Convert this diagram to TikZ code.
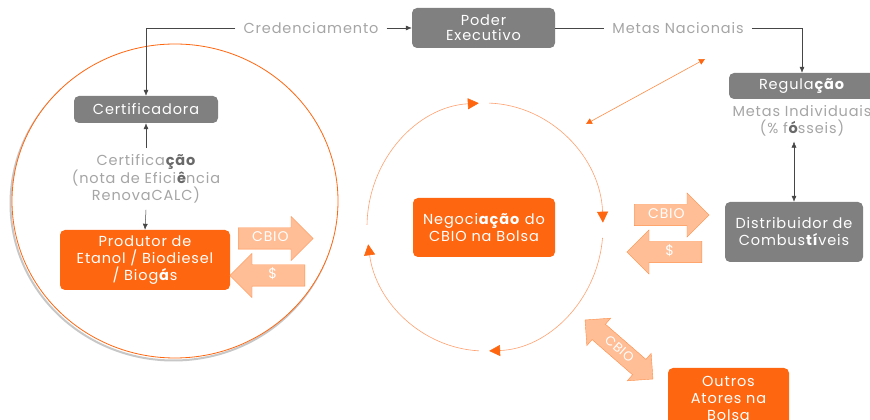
\documentclass[tikz,border=0pt]{standalone}
\usepackage{fontspec}
\setmainfont{Poppins}[LetterSpace=6]
\usetikzlibrary{arrows.meta,shapes.arrows,positioning,shadows}

\definecolor{laranja}{RGB}{255,102,16}
\definecolor{laranjaclaro}{RGB}{255,190,150}
\definecolor{laranjaborda}{RGB}{255,140,70}
\definecolor{laranjalinha}{RGB}{255,160,110}
\definecolor{cinza}{RGB}{128,128,128}
\definecolor{cinzatexto}{RGB}{165,165,165}
\definecolor{cinzaescuro}{RGB}{105,105,105}
\definecolor{linha}{RGB}{70,70,70}

\begin{document}
\begin{tikzpicture}[
  x=1pt, y=1pt,
  >={Latex[length=6pt,width=5pt]},
  every node/.style={font=\fontsize{14.5}{17}\selectfont, align=center},
  caixa/.style={rectangle, rounded corners=5pt, fill=cinza, text=white, inner sep=0pt},
  caixalaranja/.style={caixa, fill=laranja},
  rotulo/.style={text=cinzatexto, inner sep=6pt},
  seta/.style={single arrow, draw=laranjaborda, fill=laranjaclaro, text=white,
    font=\fontsize{14}{14}\selectfont, minimum height=75pt, minimum width=44pt,
    single arrow head extend=11.5pt, text height=9pt, text depth=2pt, inner ysep=5pt, inner xsep=3pt},
  ciclo/.style={draw=laranjalinha, line width=0.6pt, -{Triangle[length=11pt,width=11pt,color=laranja]}},
  conector/.style={draw=linha, line width=0.5pt},
  ]
  \useasboundingbox (0,0) rectangle (870,420);

  % big circle round the producer
  \draw[black!22, line width=2pt] (173.5,216.5) ellipse [x radius=163, y radius=157];
  \draw[draw=laranja, line width=0.8pt, fill=white] (175,219) ellipse [x radius=163, y radius=157];

  % boxes
  \node[caixa, minimum width=143pt, minimum height=40pt] (pe) at (483.5,392) {Poder\\[-2pt]Executivo};
  \node[caixa, minimum width=146pt, minimum height=26pt] (reg) at (802,334) {Regula\textbf{ção}};
  \node[caixa, minimum width=138pt, minimum height=60pt] (dist) at (794,188) {Distribuidor de\\Combus\textbf{tí}veis};
  \node[caixa, minimum width=144pt, minimum height=27pt] (certf) at (146,310.5) {Certificadora};
  \node[caixalaranja, minimum width=170pt, minimum height=60pt] (prod) at (145,160) {Produtor de\\Etanol / Biodiesel\\/ Biog\textbf{á}s};
  \node[caixalaranja, minimum width=142pt, minimum height=59pt] (neg) at (484,192.5) {Negoci\textbf{ação} do\\CBIO na Bolsa};
  \node[caixalaranja, minimum width=121pt, minimum height=60pt] (outros) at (728.5,22) {Outros\\Atores na\\Bolsa};

  % labels
  \node[rotulo, inner xsep=8pt] (cred) at (311,392) {Credenciamento};
  \node[rotulo, inner xsep=8pt] (metas) at (678,392) {Metas Nacionais};
  \node[rotulo, inner sep=5pt] (ind) at (802,299) {Metas Individuais\\(\% f\textbf{\color{cinzaescuro}ó}sseis)};
  \node[rotulo] (certtxt) at (146,241) {Certifica\textbf{\color{cinzaescuro}ção}\\(nota de Efici\textbf{\color{cinzaescuro}ê}ncia\\RenovaCALC)};

  % CBIO and $ arrows
  \node[seta, anchor=tail] (cbio1) at (238,181.5) {CBIO};
  \node[seta, anchor=tail, shape border rotate=180] (din1) at (305,144.5) {\$};
  \node[seta, anchor=tail] (cbio2) at (634,205) {CBIO};
  \node[seta, anchor=tail, shape border rotate=180] (din2) at (702,168) {\$};
  \node[double arrow, draw=laranjaborda, fill=laranjaclaro, text=white, rotate=-41,
    font=\fontsize{13}{14}\selectfont, minimum height=90pt, minimum width=36pt,
    double arrow head extend=8pt, text height=9pt, text depth=2pt, inner ysep=4.5pt] (cbio3) at (619,70.5) {CBIO};

  % trading cycle
  \coordinate (cc) at (485,193);
  \foreach \a/\b in {179/93, 88/2, -5/-88, -93/-172}
    \draw[ciclo] ([shift={(\a:118 and 124)}]cc) arc [start angle=\a, end angle=\b, x radius=118, y radius=124];

  \coordinate (d1) at (586,296);
  \coordinate (d2) at (705,361);
  \draw[laranjaborda, line width=0.6pt, {Triangle[length=6pt,width=6pt,color=laranja]}-{Triangle[length=6pt,width=6pt,color=laranja]}] (d1) -- (d2);

  % connectors
  \draw[conector, ->] (cred.west) -| (certf.north);
  \draw[conector, ->] (cred.east) -- (pe.west);
  \draw[conector] (pe.east) -- (metas.west);
  \draw[conector, ->] (metas.east) -| (reg.north);
  \draw[conector, <->] (dist.north |- ind.south) -- (dist.north);
  \draw[conector, ->] (certtxt.north) -- (certf.south);
  \draw[conector, ->] (certtxt.south) -- (prod.north);

\end{tikzpicture}
\end{document}
